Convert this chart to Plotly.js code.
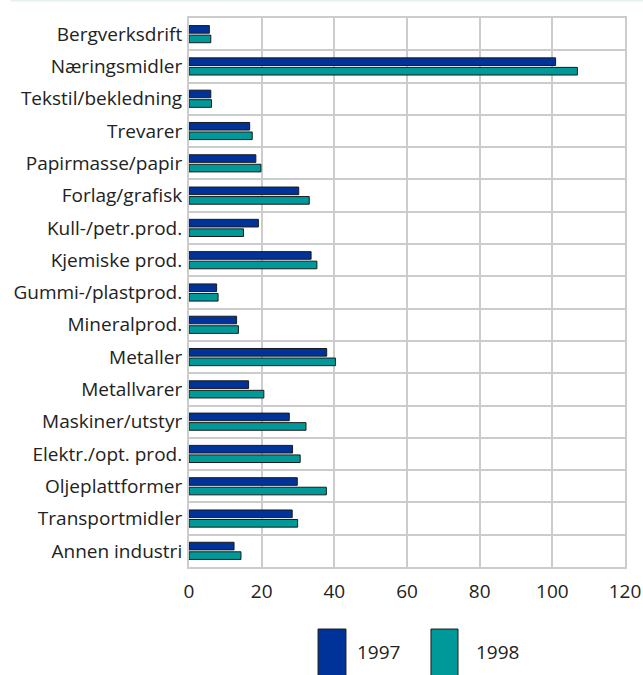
<!DOCTYPE html>
<html>
<head>
<meta charset="utf-8">
<script src="https://cdn.plot.ly/plotly-3.0.1.min.js"></script>
<style>html,body{margin:0;padding:0;background:#fff;}#chart{width:643px;height:675px;}</style>
</head>
<body>
<div id="chart"></div>
<script>
const categories = ["Bergverksdrift","Næringsmidler","Tekstil/bekledning","Trevarer","Papirmasse/papir","Forlag/grafisk","Kull-/petr.prod.","Kjemiske prod.","Gummi-/plastprod.","Mineralprod.","Metaller","Metallvarer","Maskiner/utstyr","Elektr./opt. prod.","Oljeplattformer","Transportmidler","Annen industri"];
const values1997 = [5.6,100.9,6.0,16.7,18.4,30.2,19.1,33.6,7.6,13.1,37.9,16.4,27.6,28.5,29.8,28.4,12.4];
const values1998 = [6.0,106.9,6.2,17.4,19.8,33.1,15.0,35.2,8.0,13.6,40.3,20.6,32.2,30.6,37.8,29.9,14.3];
const seriesNames = ["1997","1998"];
const colors = ["#003399","#009999"];
const xTicks = [0,20,40,60,80,100,120];

const traces = [values1997, values1998].map((v,i)=>({
  type:"bar", orientation:"h", x:v, y:categories, name:seriesNames[i],
  marker:{color:colors[i], line:{color:"#1a1a1a", width:1}}, hoverinfo:"x+y"
}));

const font = {family:"Open Sans, DejaVu Sans, sans-serif", size:19, color:"#222"};
const legendX = [[0.296,0.360,0.381],[0.555,0.617,0.654]];
const shapes = [{type:"line", xref:"paper", yref:"paper", x0:-0.41, x1:1.05, y0:1.032, y1:1.032, line:{color:"#e4f1f1", width:2}}];
const annotations = [];
seriesNames.forEach((n,i)=>{
  shapes.push({type:"rect", xref:"paper", yref:"paper", x0:legendX[i][0], x1:legendX[i][1], y0:-0.2, y1:-0.113, fillcolor:colors[i], line:{color:"#1a1a1a", width:1}});
  annotations.push({xref:"paper", yref:"paper", x:legendX[i][2], y:-0.155, xanchor:"left", yanchor:"middle", text:n, showarrow:false, font:font});
});

const layout = {
  width:643, height:675,
  margin:{l:189, r:18, t:18, b:108, pad:0},
  paper_bgcolor:"#fff", plot_bgcolor:"#fff",
  font:font,
  barmode:"group", bargap:0.41, bargroupgap:0.2,
  showlegend:false,
  xaxis:{range:[0,120], tickvals:xTicks, ticks:"", showgrid:true, gridcolor:"#cccccc", gridwidth:2,
         zeroline:false, showline:true, linecolor:"#cccccc", linewidth:2, mirror:true, tickfont:font, ticklabelstandoff:6},
  yaxis:{type:"category", autorange:"reversed", tickson:"boundaries", ticks:"", showgrid:true, gridcolor:"#cccccc", gridwidth:2,
         showline:true, linecolor:"#cccccc", linewidth:2, mirror:true, tickfont:font, ticklabelstandoff:1},
  shapes:shapes, annotations:annotations
};
Plotly.newPlot("chart", traces, layout, {displayModeBar:false, staticPlot:true});
</script>
</body>
</html>
